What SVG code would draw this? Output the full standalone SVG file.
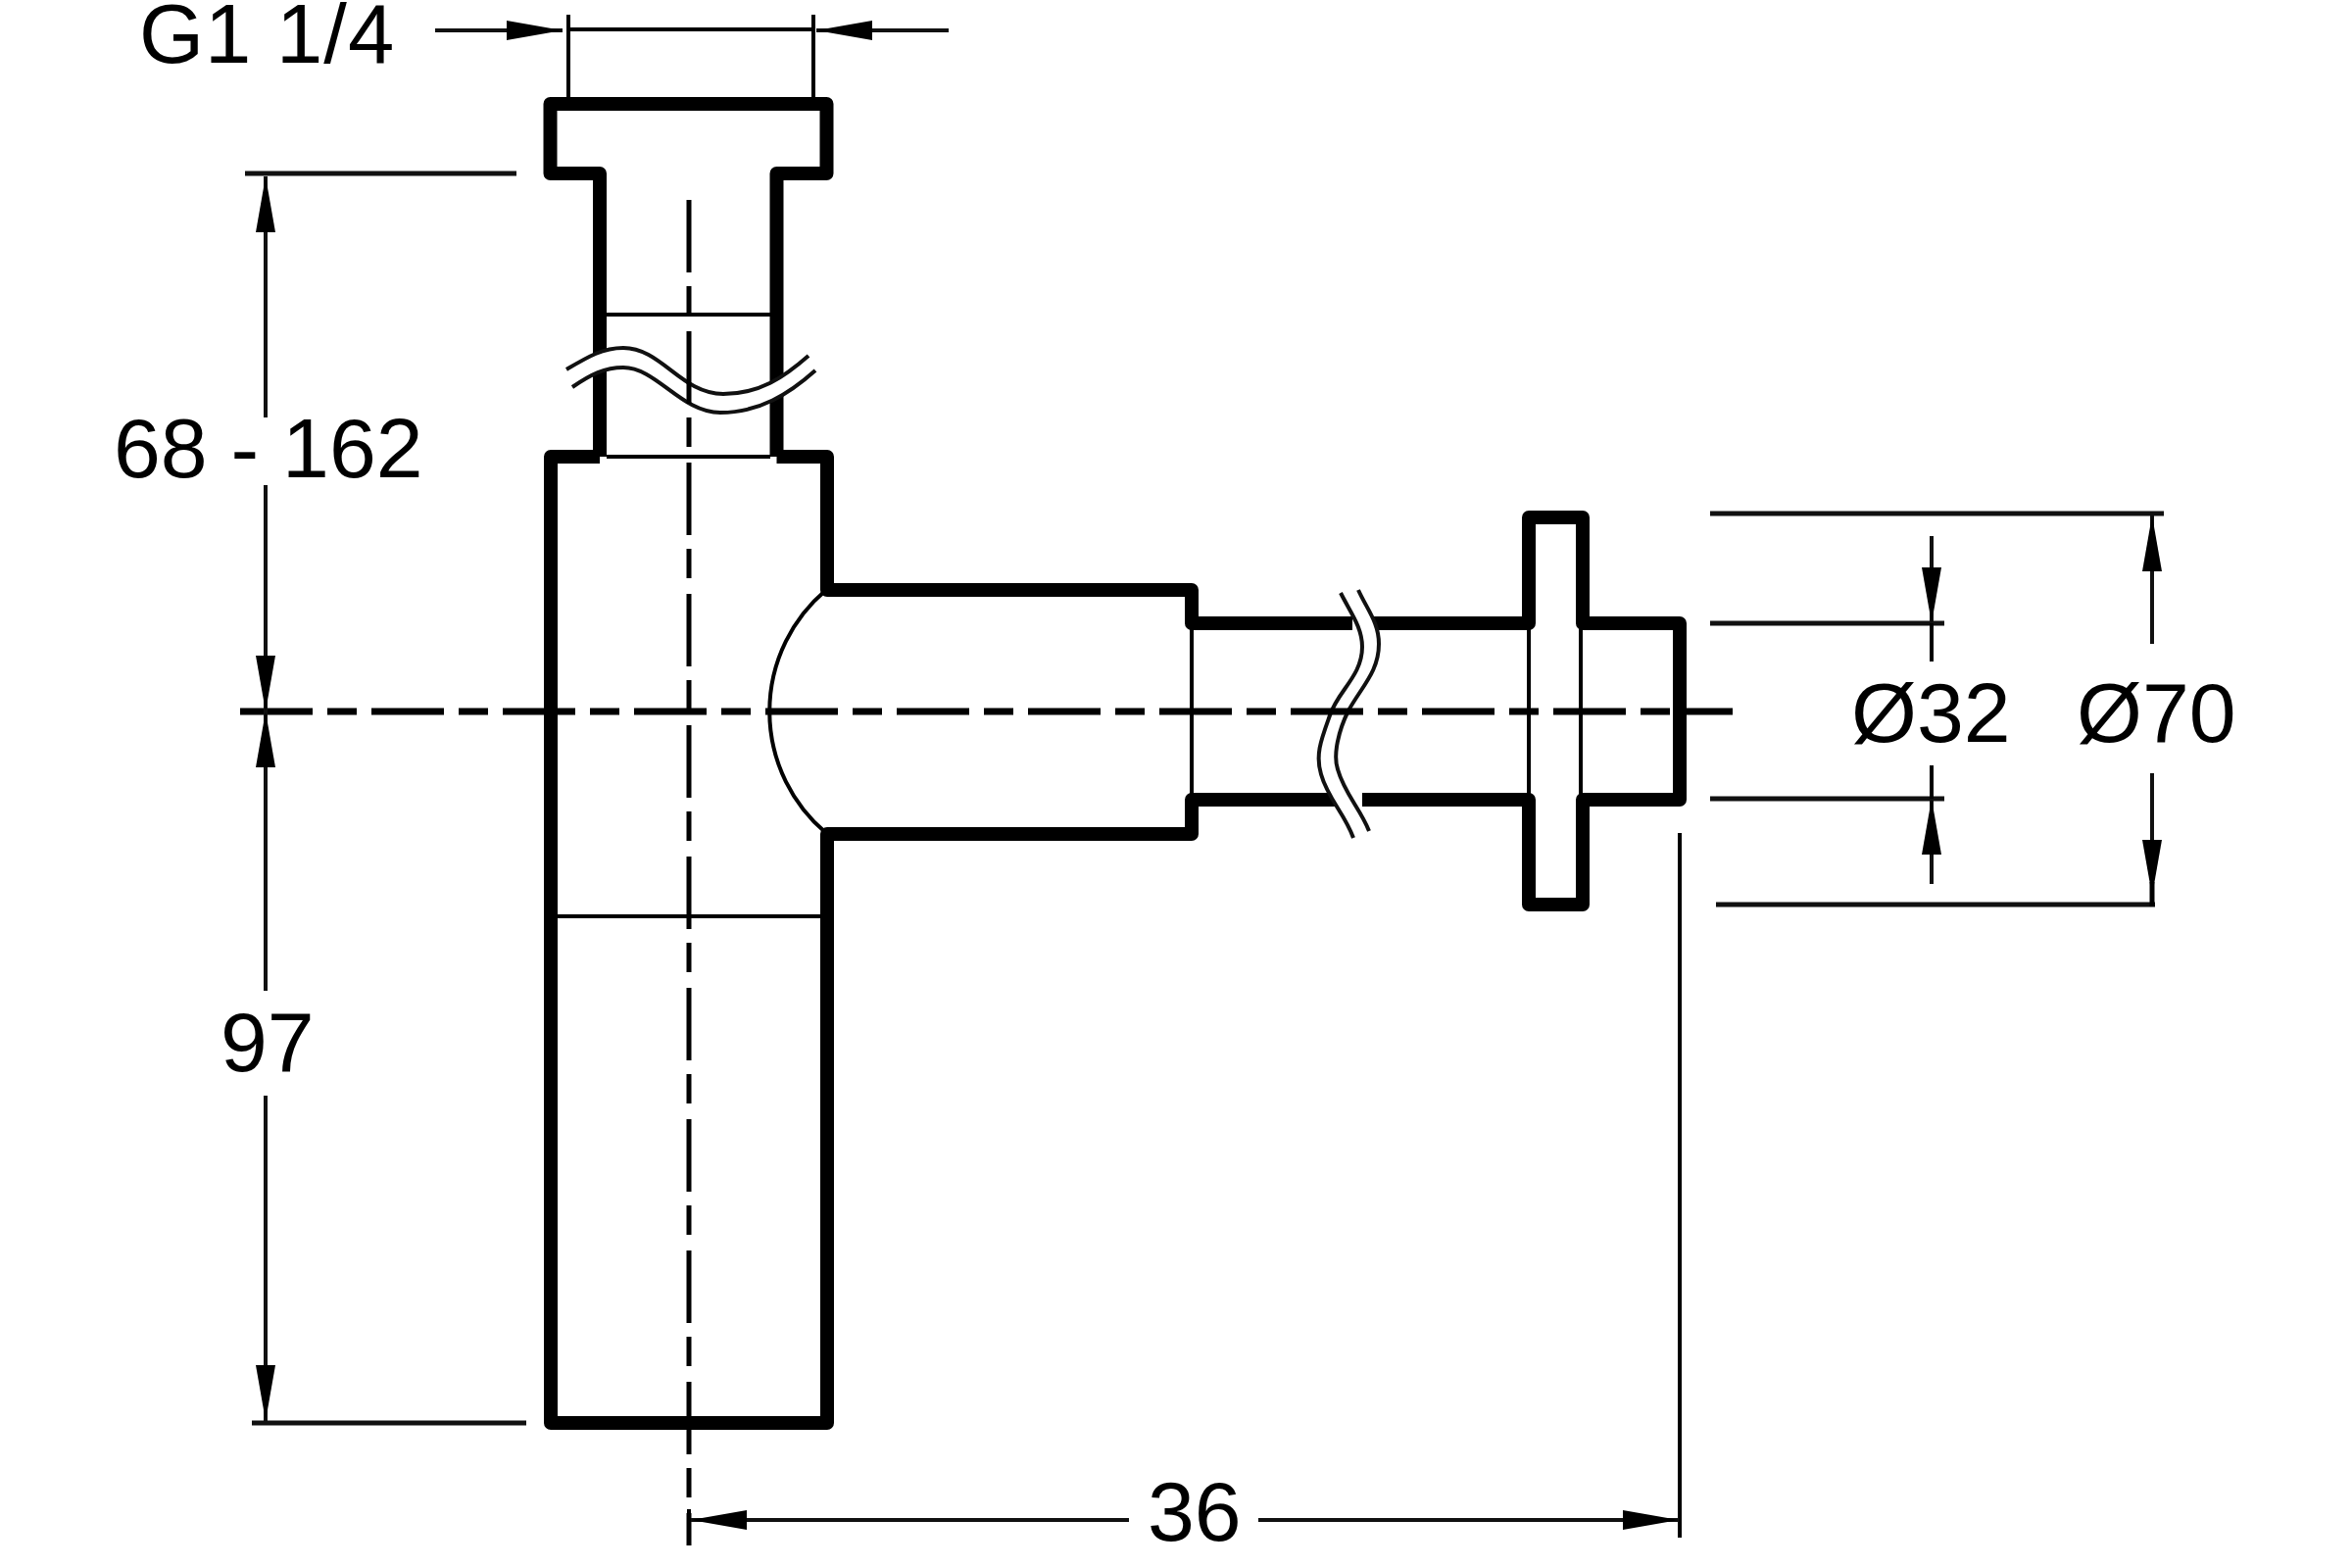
<svg xmlns="http://www.w3.org/2000/svg" width="2400" height="1600" viewBox="0 0 2400 1600">
<style>
.o{fill:none;stroke:#000;stroke-width:14;stroke-linejoin:round}
.t{fill:none;stroke:#000;stroke-width:4}
.c{fill:none;stroke:#000;stroke-width:5}
.w{fill:none;stroke:#111;stroke-width:4}
.d{fill:none;stroke:#111;stroke-width:4;marker-end:url(#a)}
.e{fill:none;stroke:#111;stroke-width:5}
text{font-family:"Liberation Sans",Arial,sans-serif;font-size:86px;fill:#000}
</style>
<defs>
<marker id="a" markerUnits="userSpaceOnUse" orient="auto" markerWidth="60" markerHeight="24" refX="57" refY="11" viewBox="0 0 60 22"><path d="M0,1 L57,11 L0,21 Z" fill="#000"/></marker>
</defs>
<rect width="2400" height="1600" fill="#fff"/>
<g id="trap-body">
<path class="o" d="M612,385 V177 H561.5 V106 H843.5 V177 H792.5 V392"/>
<path class="o" d="M612,378 V466 M792.5,398 V466"/>
<path class="o" d="M612,466 H562 V1452 H844 V851 H1216 V816 H1370 M1390,816 H1560 V923 H1615 V816 H1714 V636 H1615 V528 H1560 V636 H1400 M1380,636 H1216 V602 H844 V466 H792.5"/>
</g>
<g id="trap-details">
<path class="t" d="M619,321 H786 M619,466 H786 M568,935 H838 M1216,640 V812 M1560,640 V812 M1613,640 V812"/>
<path class="t" d="M843,602 A162,162 0 0 0 843,850" stroke-width="3"/>
<path d="M578,377 C600,364 615,355 636,355 C675,355 695,402 738,402 C775,402 800,385 825,363 L832,378 C805,402 775,421 735,421 C695,421 670,375 636,375 C617,375 603,382 584,395 Z" fill="#fff"/>
<path class="w" d="M578,377 C600,364 615,355 636,355 C675,355 695,402 738,402 C775,402 800,385 825,363"/>
<path class="w" d="M584,395 C603,382 617,375 636,375 C670,375 695,421 735,421 C775,421 805,402 832,378"/>
<path d="M1368,605 C1378,625 1390,640 1390,660 C1390,690 1365,705 1357,730 C1348,755 1342,770 1348,790 C1355,815 1372,830 1381,855 L1397,848 C1388,825 1372,810 1365,785 C1360,770 1366,745 1376,725 C1390,700 1407,685 1407,657 C1407,635 1395,622 1386,602 Z" fill="#fff"/>
<path class="w" d="M1368,605 C1378,625 1390,640 1390,660 C1390,690 1365,705 1357,730 C1348,755 1342,770 1348,790 C1355,815 1372,830 1381,855"/>
<path class="w" d="M1386,602 C1395,622 1407,635 1407,657 C1407,685 1390,700 1376,725 C1366,745 1360,770 1365,785 C1372,810 1388,825 1397,848"/>
</g>
<g id="centre-lines">
<line class="c" x1="703" y1="204" x2="703" y2="1577" stroke-dasharray="74 14 30 16"/>
<line x1="245" y1="726" x2="1768" y2="726" stroke="#000" stroke-width="7" stroke-dasharray="74 15 30 15"/>
</g>
<g id="connectors">
<path class="e" d="M250,177 H527 M257,1452 H537"/>
<path class="t" d="M580,15 V99 M830,15 V99 M580,30 H830"/>
<line class="d" x1="444" y1="31" x2="574" y2="31"/>
<line class="d" x1="968" y1="31" x2="833" y2="31"/>
<line class="d" x1="271" y1="426" x2="271" y2="180"/>
<line class="d" x1="271" y1="495" x2="271" y2="726"/>
<line class="d" x1="271" y1="1011" x2="271" y2="726"/>
<line class="d" x1="271" y1="1118" x2="271" y2="1450"/>
<path class="e" d="M1745,524 H2208 M1745,636 H1984 M1745,815 H1984 M1751,923 H2199"/>
<line class="t" x1="1971" y1="675" x2="1971" y2="636"/>
<line class="d" x1="1971" y1="547" x2="1971" y2="636"/>
<line class="t" x1="1971" y1="781" x2="1971" y2="815"/>
<line class="d" x1="1971" y1="902" x2="1971" y2="815"/>
<line class="d" x1="2196" y1="657" x2="2196" y2="526"/>
<line class="d" x1="2196" y1="789" x2="2196" y2="914"/>
<line x1="2196" y1="900" x2="2196" y2="925" stroke="#000" stroke-width="5"/>
<path class="t" d="M1714,850 V1569 M703,1540 V1577"/>
<line class="d" x1="1152" y1="1551" x2="705" y2="1551"/>
<line class="d" x1="1284" y1="1551" x2="1713" y2="1551"/>
</g>
<g id="labels">
<text x="142" y="64" style="font-size:85px;letter-spacing:1px">G1 1/4</text>
<text x="116" y="487">68 - 162</text>
<text x="225" y="1093">97</text>
<text x="1889" y="757">Ø32</text>
<text x="2119" y="757">Ø70</text>
<text x="1171" y="1572">36</text>
</g>
</svg>
